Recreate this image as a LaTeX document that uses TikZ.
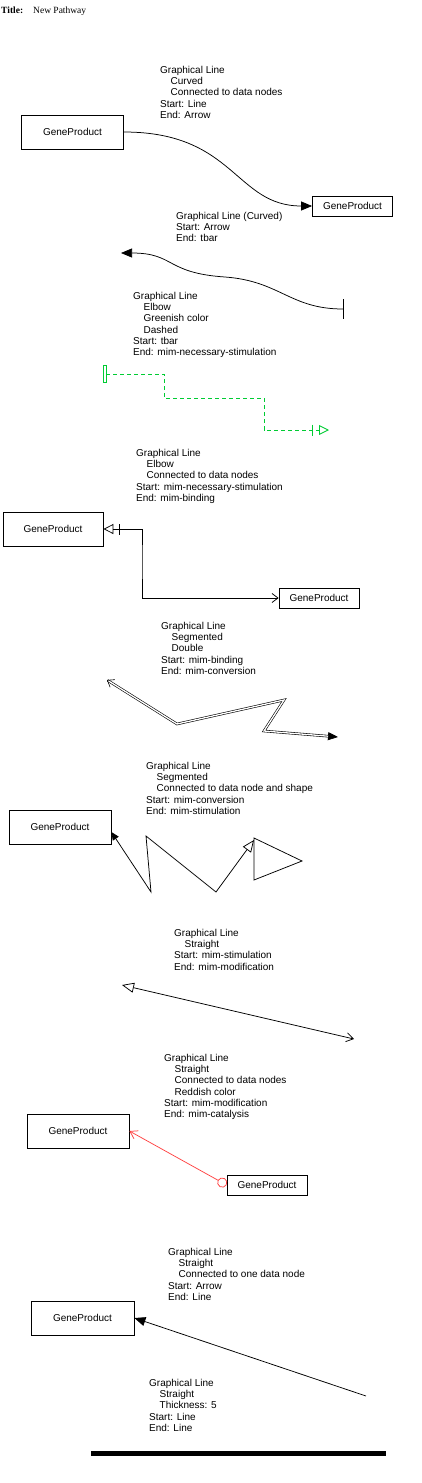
\documentclass[tikz,border=0pt]{standalone}
\usepackage{fontspec}
\setmainfont{Liberation Sans}
\newfontfamily\titlefont{Liberation Serif}
\usetikzlibrary{arrows.meta}
\definecolor{greenish}{RGB}{0,204,51}
\definecolor{reddish}{RGB}{255,64,64}
\tikzstyle{gene} = [rectangle, draw=black, line width=0.8pt, minimum width=102pt, minimum height=34pt, inner sep=0pt, text centered, font=\fontsize{10}{12}\selectfont]
\tikzstyle{genesmall} = [gene, minimum width=80pt, minimum height=20pt]
\tikzstyle{note} = [anchor=north west, inner sep=0pt, align=left, font=\fontsize{10}{11.2}\selectfont]
\tikzstyle{gline} = [line width=0.75pt, draw=black]
\tikzstyle{greenline} = [line width=0.9pt, draw=greenish, dash pattern=on 4pt off 3pt]
\tikzstyle{redline} = [line width=0.75pt, draw=reddish]
\tikzstyle{doubleline} = [line width=0.6pt, double, double distance=1.3pt]
\tikzset{
  arw/.tip={Triangle[length=11pt,width=9pt]},
  tbar/.tip={Bar[width=20pt,line width=1.5pt]},
  tbaropen/.tip={Rectangle[open,length=3.5pt,width=18pt]},
  necstim/.tip={Bar[width=11pt,sep=6pt] Triangle[open,length=10pt,width=10pt]},
  binding/.tip={Straight Barb[length=6pt,width=9pt]},
  conv/.tip={Triangle[length=10pt,width=8pt]},
  stim/.tip={Triangle[open,length=12pt,width=10pt]},
  modif/.tip={Straight Barb[length=7pt,width=9pt]},
  catal/.tip={Circle[open,length=10pt]}
}
\newcommand{\ind}{\hspace*{10.5pt}}

\begin{document}
\begin{tikzpicture}[x=1pt, y=-1pt]
	\path [use as bounding box] (0,0) rectangle (422,1483);
	\node (title) [anchor=west, inner sep=0pt, font=\titlefont\fontsize{9.5}{11}\selectfont] at (1,11) {\textbf{Title:}\hspace{10pt}New Pathway};

	% curved, connected to data nodes
	\node (n1) [note] at (160,66) {Graphical Line\\\ind Curved\\\ind Connected to data nodes\\Start: Line\\End: Arrow};
	\node (gp1) [gene] at (72.5,132) {GeneProduct};
	\node (gp2) [genesmall] at (352.5,206) {GeneProduct};
		\draw [gline, -arw] (gp1.east) .. controls (235,132) and (235,206) .. (gp2.west);

	% curved, free
	\node (n2) [note] at (176,212) {Graphical Line (Curved)\\Start: Arrow\\End: tbar};
	\coordinate (c2a) at (121,253);
	\coordinate (c2b) at (344,309);
		\draw [gline, arw-tbar] (c2a) .. controls (175,253) and (165,273) .. (225,277) .. controls (280,281) and (290,309) .. (c2b);

	% elbow, green
	\node (n3) [note] at (133,292) {Graphical Line\\\ind Elbow\\\ind Greenish color\\\ind Dashed\\Start: tbar\\End: mim-necessary-stimulation};
	\coordinate (c3a) at (103,374);
	\coordinate (c3b) at (329,430);
		\draw [greenline, tbaropen-necstim] (c3a) -| (164,398) -| (264,430) -- (c3b);

	% elbow, connected to data nodes
	\node (n4) [note] at (136,449) {Graphical Line\\\ind Elbow\\\ind Connected to data nodes\\Start: mim-necessary-stimulation\\End: mim-binding};
	\node (gp3) [gene, minimum width=100pt] at (53,529) {GeneProduct};
	\node (gp4) [genesmall] at (319,598) {GeneProduct};
	\coordinate (e4) at (142,560);
		\draw [gline, necstim-binding] (gp3.east) -| (e4) |- (gp4.west);

	% segmented, double
	\node (n5) [note] at (161,622) {Graphical Line\\\ind Segmented\\\ind Double\\Start: mim-binding\\End: mim-conversion};
	\coordinate (d1) at (107,680);
	\coordinate (d2) at (177,724);
	\coordinate (d3) at (284,700);
	\coordinate (d4) at (264,731);
	\coordinate (d5) at (338,737);
		\draw [doubleline, binding-conv] (d1) -- (d2) -- (d3) -- (d4) -- (d5);

	% segmented, data node and shape
	\node (n6) [note] at (146,762) {Graphical Line\\\ind Segmented\\\ind Connected to data node and shape\\Start: mim-conversion\\End: mim-stimulation};
	\node (gp5) [gene] at (60,827) {GeneProduct};
	\draw [gline] (254,838) -- (302,861) -- (254,880) -- cycle;
	\coordinate (tri) at (254,840);
		\draw [gline, {Triangle[length=8pt,width=7pt]}-stim] ([yshift=-5pt]gp5.east) -- (151,892) -- (146,836) -- (216,892) -- (tri);

	% straight, free
	\node (n7) [note] at (174,929) {Graphical Line\\\ind Straight\\Start: mim-stimulation\\End: mim-modification};
	\coordinate (s7a) at (122,985);
	\coordinate (s7b) at (354,1039);
		\draw [gline, stim-modif] (s7a) -- (s7b);

	% straight, red
	\node (n8) [note] at (164,1054) {Graphical Line\\\ind Straight\\\ind Connected to data nodes\\\ind Reddish color\\Start: mim-modification\\End: mim-catalysis};
	\node (gp6) [gene] at (78,1131) {GeneProduct};
	\node (gp7) [genesmall] at (267,1185) {GeneProduct};
		\draw [redline, modif-catal] (gp6.east) -- (gp7.west);

	% straight, one data node
	\node (n9) [note] at (168,1248) {Graphical Line\\\ind Straight\\\ind Connected to one data node\\Start: Arrow\\End: Line};
	\node (gp8) [gene, minimum width=103pt] at (82.5,1318) {GeneProduct};
	\coordinate (s9b) at (366,1396);
		\draw [gline, arw-] (gp8.east) -- (s9b);

	% thick
	\node (n10) [note] at (149,1379) {Graphical Line\\\ind Straight\\\ind Thickness: 5\\Start: Line\\End: Line};
	\coordinate (t1) at (91,1453);
	\coordinate (t2) at (386,1453);
		\draw [line width=5pt] (t1) -- (t2);

\end{tikzpicture}
\end{document}
